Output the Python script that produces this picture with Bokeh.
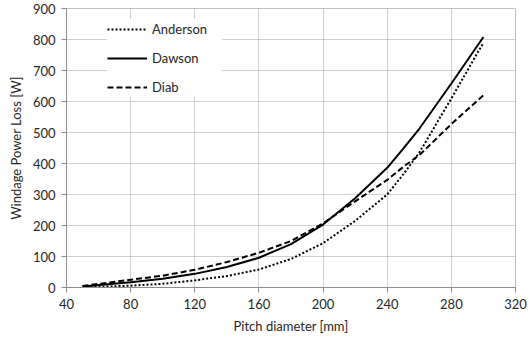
from bokeh.plotting import figure
from bokeh.models import Legend, LegendItem, FixedTicker
from bokeh.embed import file_html
from bokeh.resources import INLINE

# Data
pitch_diameter = [50, 80, 100, 120, 140, 160, 180, 200, 220, 240, 250, 260, 280, 300]
anderson = [0, 6, 12, 23, 37, 58, 92, 143, 215, 300, 365, 435, 610, 790]
dawson = [3, 17, 28, 44, 66, 96, 140, 203, 288, 386, 448, 512, 658, 808]
diab = [5, 25, 38, 57, 82, 112, 150, 207, 278, 347, 389, 427, 527, 620]

x_ticks = [40, 80, 120, 160, 200, 240, 280, 320]
y_ticks = [0, 100, 200, 300, 400, 500, 600, 700, 800, 900]

FONT = "Lato"
TXT = "#262626"
GRID = "#a0a0a0"
AX = "#8c8c8c"

p = figure(width=529, height=344, x_range=(40, 320), y_range=(0, 900),
           output_backend="svg", toolbar_location=None,
           min_border_left=66, min_border_right=14, min_border_top=8, min_border_bottom=57)
p.background_fill_color = "white"
p.border_fill_color = "white"
p.outline_line_color = "#bfbfbf"
p.outline_line_width = 1

p.xaxis.ticker = FixedTicker(ticks=x_ticks)
p.yaxis.ticker = FixedTicker(ticks=y_ticks)
for ax in (p.xaxis[0], p.yaxis[0]):
    ax.axis_line_color = AX
    ax.major_tick_line_color = AX
    ax.major_tick_out = 5
    ax.major_tick_in = 0
    ax.minor_tick_line_color = None
    ax.major_label_text_font = FONT
    ax.major_label_text_font_size = "13px"
    ax.major_label_text_color = TXT
    ax.axis_label_text_font = FONT
    ax.axis_label_text_font_size = "13px"
    ax.axis_label_text_font_style = "normal"
    ax.axis_label_text_color = TXT
p.xaxis.axis_label = "Pitch diameter [mm]"
p.yaxis.axis_label = "Windage Power Loss [W]"
p.xaxis.major_label_standoff = 6
p.yaxis.major_label_standoff = 6
p.xaxis.axis_label_standoff = 6
p.yaxis.axis_label_standoff = 6

p.xgrid.grid_line_color = GRID
p.ygrid.grid_line_color = GRID
p.xgrid.grid_line_dash = "1 1"
p.ygrid.grid_line_dash = "1 1"
p.xgrid.grid_line_width = 1
p.ygrid.grid_line_width = 1

r_and = p.line(pitch_diameter, anderson, line_color="black", line_width=2, line_dash="2 2")
r_daw = p.line(pitch_diameter, dawson, line_color="black", line_width=2)
r_dia = p.line(pitch_diameter, diab, line_color="black", line_width=2, line_dash="6 3")

legend = Legend(items=[
    LegendItem(label="Anderson", renderers=[r_and]),
    LegendItem(label="Dawson", renderers=[r_daw]),
    LegendItem(label="Diab", renderers=[r_dia]),
], location=(41, 190))
legend.border_line_color = None
legend.background_fill_color = "white"
legend.background_fill_alpha = 1
legend.padding = 6
legend.spacing = 9
legend.glyph_width = 40
legend.glyph_height = 20
legend.label_height = 20
legend.label_standoff = 5
legend.label_width = 70
legend.label_text_font = FONT
legend.label_text_font_size = "13px"
legend.label_text_color = TXT
legend.margin = 0
p.add_layout(legend)

open("out.html", "w").write(file_html(p, INLINE))
